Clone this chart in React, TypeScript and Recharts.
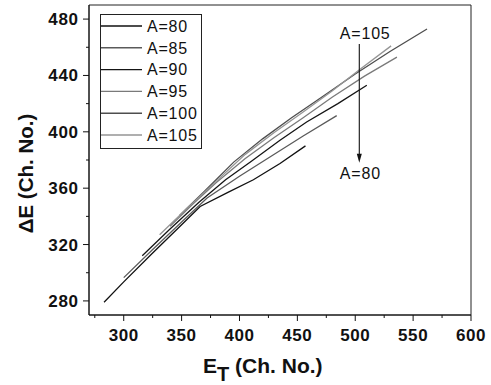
import React from 'react';
import {
    LineChart, Line, XAxis, YAxis, Legend, ReferenceArea, ReferenceLine, ReferenceDot,
} from 'recharts';

const FONT = '"Liberation Sans", Arial, Helvetica, sans-serif';

// E_T (Ch. No.) and ΔE (Ch. No.), one pair of arrays per A
const et80 = [283, 300, 325, 350, 366, 390, 412, 435, 457];
const de80 = [279, 293.5, 314, 334, 347, 357, 366, 377.5, 390];

const et85 = [300, 325, 350, 372, 400, 428, 455, 484];
const de85 = [296.5, 316.5, 336, 353, 368.5, 383, 397, 411.5];

const et90 = [316, 340, 365, 388, 410, 435, 458, 485, 510];
const de90 = [312, 331, 350, 366, 379, 394, 407, 420, 433];

const et95 = [340, 360, 380, 405, 430, 455, 480, 508, 536];
const de95 = [333, 349, 364, 381, 396, 410, 424.5, 439.5, 453];

const et100 = [348, 370, 395, 420, 445, 470, 500, 530, 562];
const de100 = [340.5, 358, 378.5, 395, 410, 424, 441, 457, 473];

const et105 = [331, 355, 380, 405, 430, 455, 480, 505, 531];
const de105 = [327, 346, 365, 384, 399.5, 414, 429, 445, 461];

const xTicks = [275, 300, 325, 350, 375, 400, 425, 450, 475, 500, 525, 550, 575, 600];
const yTicks = [280, 300, 320, 340, 360, 380, 400, 420, 440, 460, 480];

const toPoints = (xs: number[], ys: number[]) => xs.map((et, i) => ({ et, de: ys[i] }));

const series = [
    { name: 'A=80', data: toPoints(et80, de80), color: '#111111' },
    { name: 'A=85', data: toPoints(et85, de85), color: '#5a5a5a' },
    { name: 'A=90', data: toPoints(et90, de90), color: '#151515' },
    { name: 'A=95', data: toPoints(et95, de95), color: '#7a7a7a' },
    { name: 'A=100', data: toPoints(et100, de100), color: '#4e4e4e' },
    { name: 'A=105', data: toPoints(et105, de105), color: '#959595' },
];

const tickText = { fontFamily: FONT, fontWeight: 700, fontSize: 17, letterSpacing: 0.6 };

const XTick = ({ x, y, payload }: any) => {
    const major = payload.value % 50 === 0;
    return (
        <g>
            <line x1={x} y1={y} x2={x} y2={y + (major ? 6 : 3)} stroke="#111" strokeWidth={1} />
            {major && (
                <text x={x} y={y + 26} textAnchor="middle" style={tickText} fill="#111">
                    {payload.value}
                </text>
            )}
        </g>
    );
};

const YTick = ({ x, y, payload }: any) => {
    const major = payload.value % 40 === 0;
    return (
        <g>
            <line x1={x} y1={y} x2={x - (major ? 6 : 3)} y2={y} stroke="#111" strokeWidth={1} />
            {major && (
                <text x={x - 10.5} y={y + 6} textAnchor="end" style={tickText} fill="#111">
                    {payload.value}
                </text>
            )}
        </g>
    );
};

const LegendBox = () => (
    <svg width={102} height={135} style={{ display: 'block' }}>
        <rect x={0.5} y={0.5} width={101} height={134} fill="#fff" stroke="#222" strokeWidth={1} />
        {series.map((s, i) => {
            const cy = 12 + i * 21.8;
            return (
                <g key={s.name}>
                    <line x1={1} y1={cy} x2={42} y2={cy} stroke={s.color} strokeWidth={1.4} />
                    <text x={47} y={cy + 5.8} fontFamily={FONT} fontSize={16} letterSpacing={0.8} fill="#111">
                        {s.name}
                    </text>
                </g>
            );
        })}
    </svg>
);

const Arrow = (props: any) => {
    const { x1, y1, x2, y2 } = props;
    return (
        <g>
            <line x1={x1} y1={y1} x2={x2} y2={y2 - 6} stroke="#111" strokeWidth={1.1} />
            <path d={`M${x2 - 2.5},${y2 - 9} L${x2 + 2.5},${y2 - 9} L${x2},${y2} Z`} fill="#111" />
        </g>
    );
};

const Note = (text: string) => (props: any) => (
    <text x={props.cx} y={props.cy} fontFamily={FONT} fontSize={16} letterSpacing={0.8} fill="#111">
        {text}
    </text>
);

export default function App() {
    return (
        <div style={{ position: 'absolute', left: 0, top: 0, width: 491, height: 385, background: '#fff' }}>
            <LineChart width={491} height={385} margin={{ top: 5, right: 20, bottom: 0, left: 0 }}>
                <XAxis
                    dataKey="et"
                    type="number"
                    domain={[270, 600]}
                    ticks={xTicks}
                    interval={0}
                    allowDataOverflow
                    height={70}
                    tickSize={0}
                    tickMargin={0}
                    tickLine={false}
                    axisLine={{ stroke: '#111' }}
                    tick={<XTick />}
                />
                <YAxis
                    type="number"
                    domain={[270, 490]}
                    ticks={yTicks}
                    interval={0}
                    allowDataOverflow
                    width={89}
                    tickSize={0}
                    tickMargin={0}
                    tickLine={false}
                    axisLine={{ stroke: '#111' }}
                    tick={<YTick />}
                />
                <ReferenceArea x1={270} x2={600} y1={270} y2={490} fill="none" stroke="#222" strokeWidth={1} ifOverflow="visible" />
                {series.map((s) => (
                    <Line
                        key={s.name}
                        data={s.data}
                        dataKey="de"
                        name={s.name}
                        type="linear"
                        stroke={s.color}
                        strokeWidth={1.3}
                        dot={false}
                        activeDot={false}
                        isAnimationActive={false}
                    />
                ))}
                <ReferenceLine
                    segment={[{ x: 503.5, y: 462.3 }, { x: 503.5, y: 378 }]}
                    shape={<Arrow />}
                    ifOverflow="visible"
                />
                <ReferenceDot x={486.7} y={465.8} r={0} shape={Note('A=105')} ifOverflow="visible" />
                <ReferenceDot x={486.7} y={366.2} r={0} shape={Note('A=80')} ifOverflow="visible" />
                <Legend
                    layout="vertical"
                    align="center"
                    verticalAlign="middle"
                    wrapperStyle={{ position: 'absolute', left: 100, top: 14, width: 102, height: 135 }}
                    content={() => <LegendBox />}
                />
                <text x={203} y={372.7} style={{ fontFamily: FONT, fontWeight: 700, fontSize: 21 }} fill="#111">
                    <tspan>E</tspan>
                    <tspan dy={8} style={{ fontSize: 20 }}>T</tspan>
                    <tspan dy={-8}> (Ch. No.)</tspan>
                </text>
                <text
                    transform="translate(32.7, 173.5) rotate(-90)"
                    textAnchor="middle"
                    style={{ fontFamily: FONT, fontWeight: 700, fontSize: 20.5 }}
                    fill="#111"
                >
                    ΔE (Ch. No.)
                </text>
            </LineChart>
        </div>
    );
}
